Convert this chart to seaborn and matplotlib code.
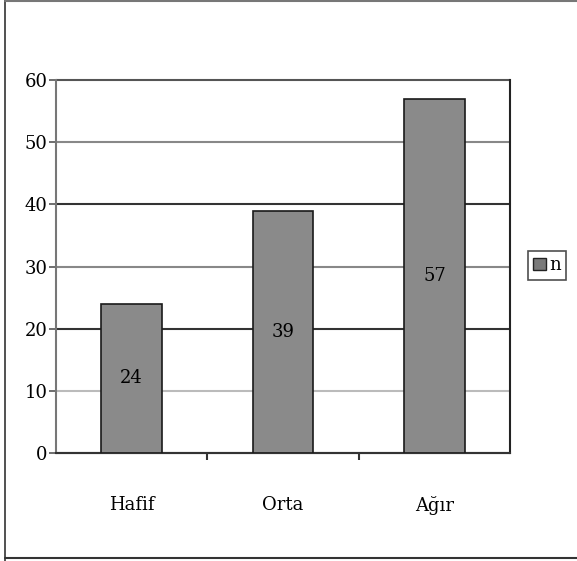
import matplotlib
matplotlib.use("Agg")
import matplotlib.pyplot as plt
from matplotlib.lines import Line2D
from matplotlib.patches import Patch
import seaborn as sns
import pandas as pd

categories = ["Hafif", "Orta", "Ağır"]
counts = [24, 39, 57]
y_ticks = [0, 10, 20, 30, 40, 50, 60]
grid_colors = ["#333333", "#bbbbbb", "#333333", "#888888", "#333333", "#888888", "#555555"]

df = pd.DataFrame({"kategori": categories, "n": counts})

sns.set_style("white", {"xtick.bottom": True, "ytick.left": True})
plt.rcParams["font.family"] = ["DejaVu Serif"]
plt.rcParams["text.color"] = "black"
plt.rcParams["xtick.color"] = "black"
plt.rcParams["ytick.color"] = "black"

fig = plt.figure(figsize=(5.77, 5.61), dpi=100)
ax = fig.add_axes([0.097, 0.1925, 0.787, 0.6645])

sns.barplot(data=df, x="kategori", y="n", color="#8a8a8a", saturation=1,
            width=0.4, edgecolor="#1a1a1a", linewidth=1.2, ax=ax, zorder=3)

ax.set_ylim(0, 60)
ax.set_xlim(-0.5, 2.5)
ax.set_yticks(y_ticks)
ax.set_yticklabels([str(t) for t in y_ticks], fontsize=13)
ax.tick_params(axis="y", left=True, length=5, width=1.2, color="#555555",
               labelcolor="black", pad=1)
ax.set_xticks([0, 1, 2])
ax.set_xticklabels(categories)
ax.tick_params(axis="x", which="major", length=0, labelsize=13, labelcolor="black", pad=31)
ax.set_xticks([0.5, 1.5], minor=True)
ax.tick_params(axis="x", which="minor", bottom=True, length=5, width=1.5, color="#333333")
ax.set_xlabel("")
ax.set_ylabel("")

# gridlines with varying darkness, like the scanned original
for t, c in zip(y_ticks, grid_colors):
    ax.axhline(t, color=c, linewidth=1.5, zorder=1, clip_on=False)

ax.spines["top"].set_visible(False)
ax.spines["left"].set_color("#777777")
ax.spines["left"].set_linewidth(1.5)
ax.spines["bottom"].set_color("#333333")
ax.spines["bottom"].set_linewidth(1.5)
ax.spines["right"].set_color("#222222")
ax.spines["right"].set_linewidth(1.5)

for i, v in enumerate(counts):
    ax.text(i, v / 2, str(v), ha="center", va="center", fontsize=13,
            color="black", zorder=4)

handle = Patch(facecolor="#7a7a7a", edgecolor="#222222", linewidth=1)
leg = fig.legend([handle], ["n"], loc="center", bbox_to_anchor=(0.948, 0.527),
                 fontsize=13, frameon=True, fancybox=False, handlelength=0.7,
                 handleheight=0.6, handletextpad=0.2, borderpad=0.3,
                 borderaxespad=0)
leg.get_frame().set_edgecolor("#222222")
leg.get_frame().set_linewidth(1.2)

# outer chart border
W, H = 577, 561
fig.add_artist(Line2D([5 / W, 5 / W], [0, 1], color="#333333", lw=1.2))
fig.add_artist(Line2D([5 / W, 1], [1 - 558 / H, 1 - 558 / H], color="#333333", lw=1.5))
fig.add_artist(Line2D([5 / W, 1], [0.999, 0.999], color="#777777", lw=1.5))

fig.savefig("out.png", dpi=100)
plt.close(fig)
